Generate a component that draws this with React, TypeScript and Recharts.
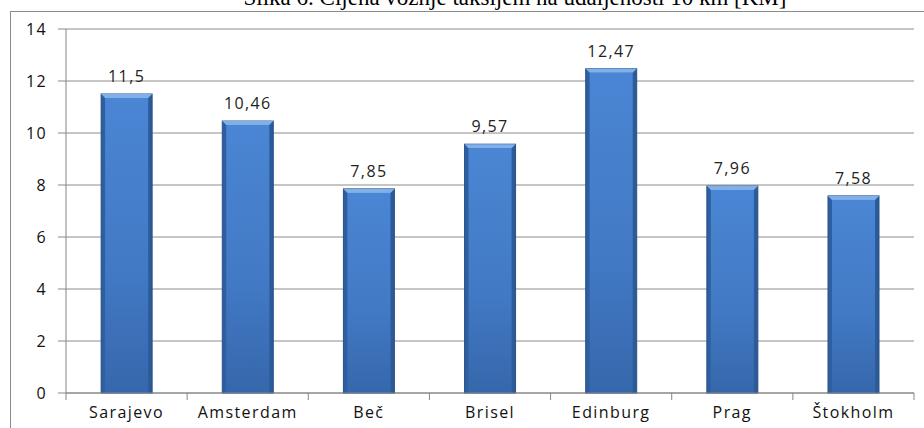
import { Bar, BarChart, CartesianGrid, LabelList, XAxis, YAxis } from "recharts";

const cities = ["Sarajevo", "Amsterdam", "Beč", "Brisel", "Edinburg", "Prag", "Štokholm"];
const prices = [11.5, 10.46, 7.85, 9.57, 12.47, 7.96, 7.58];
const yTicks = [0, 2, 4, 6, 8, 10, 12, 14];

const chartData = cities.map((city, i) => ({ city, price: prices[i] }));

const fmt = (v: number) => String(v).replace(".", ",");

const labelFont = "'Open Sans', sans-serif";

function CityTick(props: any) {
  const { x, y, payload, index } = props;
  const half = payload.offset ?? 0;
  return (
    <g>
      <line x1={x - half} y1={y - 8} x2={x - half} y2={y - 1} stroke="#868686" />
      {index === cities.length - 1 && (
        <line x1={x + half} y1={y - 8} x2={x + half} y2={y - 1} stroke="#868686" />
      )}
      <text
        x={x}
        y={y + 17}
        textAnchor="middle"
        fontSize={16}
        letterSpacing={1.4}
        fill="#111"
        fontFamily={labelFont}
      >
        {payload.value}
      </text>
    </g>
  );
}

function BevelBar(props: any) {
  const { x, y, width, height } = props;
  if (!height || height <= 0) return null;
  const b = 4;
  return (
    <g>
      <rect x={x} y={y} width={width} height={height} fill="url(#barBody)" stroke="#2a5288" strokeWidth={1} />
      <polygon
        points={`${x},${y} ${x + width},${y} ${x + width - b},${y + b} ${x + b},${y + b}`}
        fill="#7fb0ea"
      />
      <rect x={x + b} y={y + b} width={width - 2 * b} height={height - b} fill="url(#barFace)" />
    </g>
  );
}

export default function App() {
  return (
    <div style={{ position: "absolute", left: 0, top: 0, width: 924, height: 428, background: "#fff", overflow: "hidden" }}>
      <div
        style={{
          position: "absolute",
          left: 0,
          width: 1030,
          top: -15,
          textAlign: "center",
          fontFamily: "'Liberation Serif', serif",
          fontSize: 23,
          color: "#000",
          whiteSpace: "nowrap",
        }}
      >
        Slika 6. Cijena vožnje taksijem na udaljenosti 10 km [KM]
      </div>
      <div
        style={{
          position: "absolute",
          left: 10,
          top: 11,
          width: 930,
          height: 430,
          borderLeft: "1px solid #8a8a8a",
          borderTop: "1px solid #8a8a8a",
        }}
      />
      <div style={{ position: "absolute", left: 0, top: 0 }}>
        <BarChart
          width={924}
          height={428}
          data={chartData}
          margin={{ top: 29, right: 10, bottom: 5, left: 10 }}
          barCategoryGap="29%"
        >
          <defs>
            <linearGradient id="barBody" x1="0" y1="0" x2="1" y2="0">
              <stop offset="0%" stopColor="#2d5d9e" />
              <stop offset="50%" stopColor="#3a70bb" />
              <stop offset="100%" stopColor="#2b5996" />
            </linearGradient>
            <linearGradient id="barFace" x1="0" y1="0" x2="0" y2="1">
              <stop offset="0%" stopColor="#4a86d4" />
              <stop offset="60%" stopColor="#4279c4" />
              <stop offset="100%" stopColor="#3567ab" />
            </linearGradient>
          </defs>
          <CartesianGrid vertical={false} stroke="#8c8c8c" />
          <XAxis
            dataKey="city"
            height={30}
            stroke="#868686"
            tickLine={false}
            tick={<CityTick />}
            interval={0}
          />
          <YAxis
            width={56}
            domain={[0, 14]}
            ticks={yTicks}
            stroke="#868686"
            tickSize={8}
            tickMargin={11}
            tick={{ fontSize: 16, fill: "#111", fontFamily: labelFont, letterSpacing: 1.4 }}
            interval={0}
          />
          <Bar dataKey="price" shape={<BevelBar />} isAnimationActive={false}>
            <LabelList
              dataKey="price"
              position="top"
              offset={12}
              formatter={(v: any) => fmt(v)}
              style={{ fontSize: 16, fill: "#222", fontFamily: labelFont, letterSpacing: 1.4 }}
            />
          </Bar>
        </BarChart>
      </div>
    </div>
  );
}
